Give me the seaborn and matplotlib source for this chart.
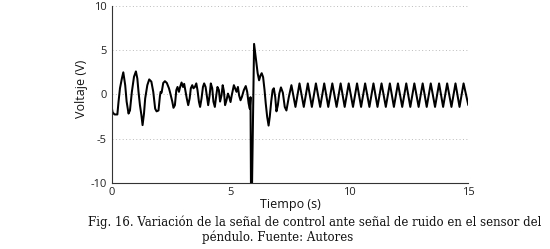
import matplotlib
matplotlib.use("Agg")
import matplotlib.pyplot as plt
import pandas as pd
import seaborn as sns

# --- data (time in s, voltage in V) ---
t_noise = [0.00, 0.04, 0.12, 0.24, 0.29, 0.35, 0.43, 0.49, 0.57, 0.63, 0.71, 0.77, 0.85, 0.94,
           1.02, 1.08, 1.13, 1.19, 1.25, 1.30, 1.36, 1.41, 1.50, 1.58, 1.67, 1.75, 1.83, 1.89,
           1.97, 2.03, 2.06, 2.10, 2.17, 2.24, 2.32,
           2.41, 2.46, 2.55, 2.60, 2.66, 2.72, 2.77, 2.83, 2.88, 2.94, 3.00, 3.05, 3.11, 3.16,
           3.22, 3.28, 3.33, 3.39, 3.44, 3.50, 3.56, 3.61, 3.67, 3.72, 3.78, 3.84, 3.89, 3.95,
           4.00, 4.06, 4.12, 4.17, 4.23, 4.28, 4.34, 4.40, 4.45, 4.51, 4.56, 4.62, 4.67, 4.72,
           4.77, 4.83, 4.89, 4.94, 5.00, 5.05, 5.14, 5.19, 5.25, 5.31, 5.36, 5.42, 5.48, 5.56,
           5.64, 5.70, 5.76, 5.81, 5.84]
v_noise = [-1.4, -2.0, -2.25, -2.25, -0.8, 0.7, 1.8, 2.5, 1.05, -0.8, -2.15, -1.8, 0.3, 2.0,
           2.6, 1.8, 0.3, -1.2, -2.3, -3.45, -2.15, -0.45, 1.05, 1.7, 1.45, 0.3, -1.6, -1.9,
           -1.8, -0.2, 0.3, 0.2, 1.3, 1.5, 1.3,
           0.7, 0.2, -0.8, -1.5, -1.2, 0.5, 0.85, 0.3, 0.85, 1.35, 0.85, 1.2, 0.3, -0.45,
           -1.2, -0.45, 0.7, 1.05, 0.7, 0.85, 1.25, 0.5, -0.8, -1.4, -0.45, 0.85, 1.25, 0.85,
           -0.1, -1.2, -0.1, 1.25, 0.7, -0.8, -1.4, -0.1, 0.85, 0.5, -0.8, -0.1, 1.05, 0.4,
           -1.2, -0.65, 0.1, -0.25, -0.85, -0.1, 1.05, 0.7, 0.3, 0.85, -0.1, -0.65, -0.25, 0.5,
           0.95, 0.3, -1.0, -1.6, -0.3]

t_spike = [5.86, 5.90]
v_spike = [-11.0, -11.0]

t_trans = [5.99, 6.06, 6.14, 6.20, 6.26, 6.31, 6.37, 6.43, 6.48, 6.54, 6.60, 6.65, 6.71, 6.77,
           6.82, 6.88, 6.93, 6.99, 7.05, 7.12, 7.20, 7.28, 7.35, 7.45]
v_trans = [5.7, 4.2, 2.4, 1.6, 2.15, 2.4, 1.95, 0.5, -1.0, -2.5, -3.5, -2.5, -0.8, 0.5,
           0.7, -0.3, -1.9, -1.2, 0.1, 0.8, 0.2, -1.4, -1.8, -0.3]

t_peaks = [7.56, 7.90, 8.25, 8.59, 8.94, 9.28, 9.63, 9.97, 10.32, 10.66, 11.01, 11.35,
           11.70, 12.04, 12.39, 12.73, 13.08, 13.42, 13.77, 14.11, 14.46, 14.80]
v_peaks = [1.05, 1.25, 1.25, 1.25, 1.25, 1.25, 1.25, 1.25, 1.25, 1.25, 1.25, 1.25,
           1.25, 1.25, 1.25, 1.25, 1.25, 1.25, 1.25, 1.25, 1.25, 1.25]
t_troughs = [7.73, 8.08, 8.42, 8.77, 9.11, 9.46, 9.80, 10.15, 10.49, 10.84, 11.18, 11.53,
             11.87, 12.22, 12.56, 12.91, 13.25, 13.60, 13.94, 14.29, 14.63, 15.00]
v_troughs = [-1.4, -1.4, -1.4, -1.4, -1.4, -1.4, -1.4, -1.4, -1.4, -1.4, -1.4, -1.4,
             -1.4, -1.4, -1.4, -1.4, -1.4, -1.4, -1.4, -1.4, -1.4, -1.2]

x_ticks = [0, 5, 10, 15]
y_ticks = [-10, -5, 0, 5, 10]
x_label = "Tiempo (s)"
y_label = "Voltaje (V)"
caption_1 = "Fig. 16. Variación de la señal de control ante señal de ruido en el sensor del"
caption_2 = "péndulo. Fuente: Autores"

# --- build table ---
df = pd.DataFrame({
    "t": t_noise + t_spike + t_trans + t_peaks + t_troughs,
    "v": v_noise + v_spike + v_trans + v_peaks + v_troughs,
}).sort_values("t", kind="stable").reset_index(drop=True)

sns.set_style("white")
plt.rcParams["font.family"] = ["Open Sans", "DejaVu Sans"]
plt.rcParams["axes.unicode_minus"] = False

fig = plt.figure(figsize=(5.5, 2.49), dpi=100)
ax = fig.add_axes([0.203, 0.264, 0.6485, 0.713])

sns.lineplot(data=df, x="t", y="v", estimator=None, sort=False, color="black",
             linewidth=1.45, ax=ax)

ax.set_xlim(0, 15)
ax.set_ylim(-10, 10)
ax.set_xticks(x_ticks)
ax.set_yticks(y_ticks)
ax.set_xticklabels([str(v) for v in x_ticks])
ax.set_yticklabels([str(v) for v in y_ticks])

for s in ["top", "right"]:
    ax.spines[s].set_visible(False)
for s in ["left", "bottom"]:
    ax.spines[s].set_color("#333333")
    ax.spines[s].set_linewidth(0.8)

ax.tick_params(axis="both", direction="in", length=3, width=0.6, color="#333333",
               labelsize=8, labelcolor="#222222")
ax.tick_params(axis="x", pad=3)
ax.tick_params(axis="y", pad=3.5)

ax.yaxis.grid(True, linestyle=(0, (1, 2.5)), color="#bbbbbb", linewidth=0.7)
ax.xaxis.grid(False)

ax.set_xlabel(x_label, fontsize=9, color="#111111")
ax.set_ylabel(y_label, fontsize=9, color="#111111")
ax.xaxis.set_label_coords(0.5, -0.085)
ax.yaxis.set_label_coords(-0.067, 0.53)

fig.text(314.5 / 550, 1 - 222 / 249, caption_1, ha="center", va="center",
         family="DejaVu Serif", fontsize=8.45, color="#111111")
fig.text(278 / 550, 1 - 237 / 249, caption_2, ha="center", va="center",
         family="DejaVu Serif", fontsize=8.45, color="#111111")

fig.savefig("out.png", dpi=100)
